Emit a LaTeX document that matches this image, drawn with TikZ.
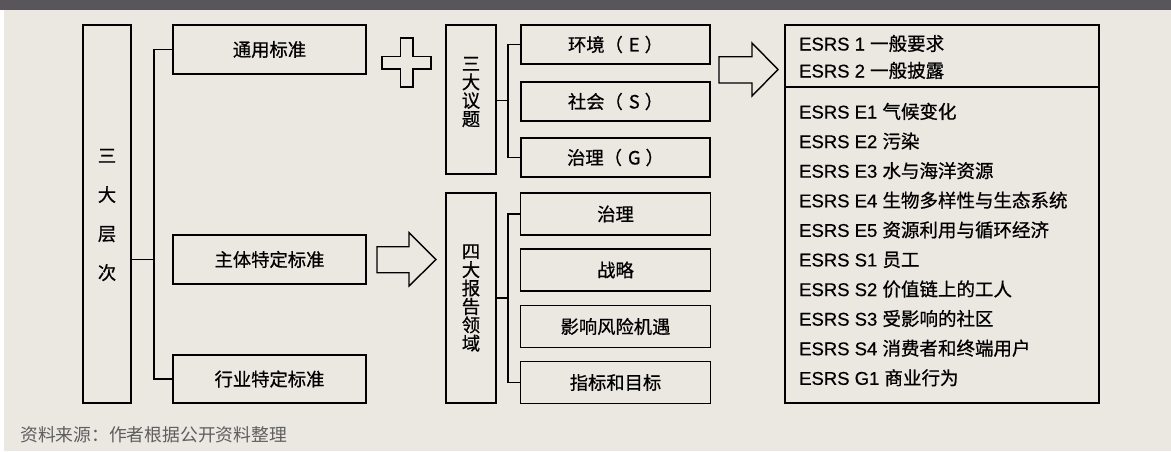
\documentclass[tikz,border=0pt]{standalone}
\usepackage{fontspec}
\setmainfont{Liberation Sans}[FakeBold=0.4]
\newfontfamily\cjk{Noto Sans CJK SC}[FakeBold=0.7]
\newfontfamily\cjkl{Noto Sans CJK SC}
\definecolor{bgc}{HTML}{EBE8E2}
\definecolor{hdr}{HTML}{58565A}
\definecolor{notec}{HTML}{5E5E5E}
\newcommand{\es}[2]{ESRS #1 {\cjk #2}}
\newcommand{\pl}[1]{{\cjk （}\hspace{6pt}#1\hspace{5pt}{\cjk ）}}
\begin{document}
\begin{tikzpicture}[x=1pt,y=-1pt,
  box/.style={draw=black,line width=1.7pt,inner sep=0pt,font=\fontsize{18.3}{18.3}\selectfont\cjk},
  vtext/.style={inner sep=0pt,align=center,font=\fontsize{18.3}{18.4}\selectfont\cjk},
  ln/.style={line width=1.5pt},
  blk/.style={draw=black,line width=1.4pt,line join=miter},
  lst/.style={inner sep=0pt,anchor=base west,font=\fontsize{18.5}{18.5}\selectfont}]
\useasboundingbox (0,0) rectangle (1171,451);
\fill[white] (0,0) rectangle (1171,451);
\fill[bgc] (4,0) rectangle (1171,451);
\fill[hdr] (0,0) rectangle (1171,9.5);

% level 1
\node[box,minimum width=48pt,minimum height=378pt] (lvl) at (107,214) {};
\node[vtext,font=\fontsize{18.3}{39}\selectfont\cjk] (lvlt) at (107,215) {三\\大\\层\\次};

% level 2
\node[box,minimum width=193pt,minimum height=49pt] (tong) at (269.5,49.5) {通用标准};
\node[box,minimum width=193pt,minimum height=49pt] (zhu) at (269.5,259.5) {主体特定标准};
\node[box,minimum width=193pt,minimum height=48pt] (hang) at (269.5,379) {行业特定标准};

\coordinate (j1) at (154,259.5);
\draw[ln] (lvl.east |- j1) -- (j1);
\draw[ln] (tong.west) -| (j1) |- (hang.west);

% plus sign
\draw[blk] (400.2,38) -- (412.8,38) -- (412.8,56.2) -- (431,56.2) -- (431,68.8) -- (412.8,68.8)
  -- (412.8,87) -- (400.2,87) -- (400.2,68.8) -- (382,68.8) -- (382,56.2) -- (400.2,56.2) -- cycle;

% arrow from 主体特定标准
\draw[blk] (377,246.7) -- (409,246.7) -- (409,232.7) -- (436,259.5) -- (409,286) -- (409,272.7) -- (377,272.7) -- cycle;

% three topics
\node[box,minimum width=50pt,minimum height=149pt] (yt) at (471,99.5) {};
\node[vtext] (ytt) at (471,92) {三\\大\\议\\题};
\node[box,minimum width=189pt,minimum height=39pt] (E) at (615.5,44.5) {环境\pl{E}};
\node[box,minimum width=189pt,minimum height=39pt] (S) at (615.5,101.5) {社会\pl{S}};
\node[box,minimum width=189pt,minimum height=39pt] (G) at (615.5,157.5) {治理\pl{G}};
\coordinate (j2) at (508,100.7);
\draw[ln] (yt.east |- j2) -- (j2);
\draw[ln] (E.west) -| (j2) |- (G.west);

% four reporting areas
\node[box,minimum width=50pt,minimum height=210pt] (bg) at (471,298) {};
\node[vtext] (bgt) at (471,298) {四\\大\\报\\告\\领\\域};
\node[box,minimum width=190pt,minimum height=42pt] (zl) at (615.5,214) {治理};
\node[box,minimum width=190pt,minimum height=42pt] (zlue) at (615.5,270) {战略};
\node[box,minimum width=190pt,minimum height=42pt] (yx) at (615.5,326.5) {影响风险机遇};
\node[box,minimum width=190pt,minimum height=42pt] (zb) at (615.5,382.5) {指标和目标};
\coordinate (j3) at (508,298);
\draw[ln] (bg.east |- j3) -- (j3);
\draw[ln] (zl.west) -| (j3) |- (zb.west);

% arrow to ESRS
\draw[blk] (719,56.7) -- (752,56.7) -- (752,43) -- (778,69.5) -- (752,96) -- (752,83) -- (719,83) -- cycle;

% ESRS list
\node[box,minimum width=314pt,minimum height=378pt] (esrs) at (942,214) {};
\coordinate (d1) at (785,87);
\coordinate (d2) at (1099,87);
\draw[line width=1.7pt] (d1) -- (d2);
\node[lst] (g1) at (799,50.5) {\es{1}{一般要求}};
\node[lst] (g2) at (799,77.5) {\es{2}{一般披露}};
\foreach \c/\t [count=\i from 0] in {E1/气候变化, E2/污染, E3/水与海洋资源, E4/生物多样性与生态系统,
   E5/资源利用与循环经济, S1/员工, S2/价值链上的工人, S3/受影响的社区, S4/消费者和终端用户, G1/商业行为}
  \node[lst] (t\i) at (799,{118.5+29.59*\i}) {\es{\c}{\t}};

% source note
\node[inner sep=0pt,anchor=base west,text=notec,font=\fontsize{17.8}{17.8}\selectfont\cjkl] (src) at (20,441.5) {资料来源：作者根据公开资料整理};
\end{tikzpicture}
\end{document}
